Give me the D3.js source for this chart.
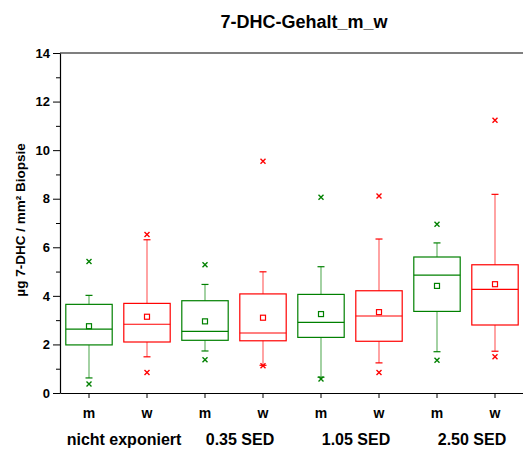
<!DOCTYPE html>
<html lang="en">
<head>
    <meta charset="UTF-8">
    <title>7-DHC-Gehalt_m_w</title>
    <script src="https://d3js.org/d3.v7.min.js"></script>
    <style>
        body { margin: 0; background: white; }
        text { font-family: Arial, "Liberation Sans", sans-serif; font-weight: bold; fill: black; }
        .axis path, .axis line { stroke: black; }
    </style>
</head>
<body>
<script>
    // Groups and sexes
    const groups = ["nicht exponiert", "0.35 SED", "1.05 SED", "2.50 SED"];
    const sexes = ["m", "w"];

    // Box statistics, order: 1m, 1w, 2m, 2w, 3m, 3w, 4m, 4w
    const whiskerLow  = [0.62, 1.49, 1.73, 1.14, 0.65, 1.24, 1.70, 1.72];
    const q1          = [1.98, 2.10, 2.17, 2.15, 2.29, 2.13, 3.36, 2.80];
    const median      = [2.63, 2.83, 2.54, 2.47, 2.91, 3.17, 4.85, 4.27];
    const q3          = [3.65, 3.69, 3.80, 4.08, 4.06, 4.21, 5.60, 5.28];
    const whiskerHigh = [4.02, 6.31, 4.47, 4.99, 5.20, 6.34, 6.18, 8.18];
    const mean        = [2.75, 3.14, 2.95, 3.10, 3.25, 3.33, 4.41, 4.48];
    const outlierLow  = [0.37, 0.84, 1.37, 1.12, 0.58, 0.84, 1.35, 1.49];
    const outlierHigh = [5.41, 6.53, 5.28, 9.54, 8.06, 8.11, 6.95, 11.23];

    const yTicks = [0, 2, 4, 6, 8, 10, 12, 14];

    const W = 523, H = 449;
    const margin = {top: 53, right: -1, bottom: 56, left: 60};
    const colors = {m: "#008000", w: "#ff0000"};

    const svg = d3.select("body").append("svg")
        .attr("width", W)
        .attr("height", H);

    // build rows
    const rows = [];
    groups.forEach((g, gi) => {
        sexes.forEach((s, si) => {
            const i = gi * 2 + si;
            rows.push({
                key: i, group: g, sex: s,
                lo: whiskerLow[i], q1: q1[i], med: median[i], q3: q3[i],
                hi: whiskerHigh[i], mean: mean[i],
                outliers: [outlierLow[i], outlierHigh[i]]
            });
        });
    });

    const x = d3.scaleBand()
        .domain(rows.map(d => d.key))
        .range([margin.left, W - margin.right])
        .padding(0);

    const y = d3.scaleLinear()
        .domain([0, 14])
        .range([H - margin.bottom, margin.top]);

    // top frame line
    svg.append("line")
        .attr("x1", margin.left).attr("x2", W)
        .attr("y1", y(14)).attr("y2", y(14))
        .attr("stroke", "black").attr("stroke-width", 1.2);

    // y axis with minor ticks
    const yAxis = svg.append("g")
        .attr("class", "axis")
        .attr("transform", `translate(${margin.left},0)`)
        .call(d3.axisLeft(y).tickValues(yTicks).tickSize(7).tickPadding(3).tickSizeOuter(0));
    yAxis.selectAll("text").style("font-size", "13px");
    yAxis.select(".domain").attr("stroke-width", 1.2);

    svg.append("g")
        .attr("class", "axis")
        .attr("transform", `translate(${margin.left},0)`)
        .call(d3.axisLeft(y).tickValues(d3.range(1, 14, 2)).tickSize(4).tickFormat(""))
        .select(".domain").remove();

    // x axis
    const xAxis = svg.append("g")
        .attr("class", "axis")
        .attr("transform", `translate(0,${y(0)})`)
        .call(d3.axisBottom(x).tickSize(5).tickSizeOuter(0).tickPadding(10)
            .tickFormat(k => rows[k].sex));
    xAxis.selectAll("text").style("font-size", "14px");
    xAxis.select(".domain").attr("stroke-width", 1.2);

    // group labels
    svg.selectAll(".glabel")
        .data(groups)
        .enter().append("text")
        .attr("class", "glabel")
        .attr("x", (g, gi) => (x(gi * 2) + x(gi * 2 + 1) + x.bandwidth()) / 2 + 6)
        .attr("y", 445)
        .attr("text-anchor", "middle")
        .style("font-size", "16px")
        .text(g => g);

    // title
    svg.append("text")
        .attr("x", 304).attr("y", 28)
        .attr("text-anchor", "middle")
        .style("font-size", "18px")
        .text("7-DHC-Gehalt_m_w");

    // y label
    svg.append("text")
        .attr("transform", `translate(25,${(y(0) + y(14)) / 2 - 3}) rotate(-90)`)
        .attr("text-anchor", "middle")
        .style("font-size", "13.5px")
        .text("µg 7-DHC / mm² Biopsie");

    const boxW = x.bandwidth() * 0.8;
    const capW = 7;

    const box = svg.selectAll(".box")
        .data(rows)
        .enter().append("g")
        .attr("class", "box")
        .attr("transform", d => `translate(${x(d.key) + x.bandwidth() / 2},0)`)
        .attr("stroke", d => colors[d.sex])
        .attr("fill", "none")
        .attr("stroke-width", 1.2);

    // whiskers
    box.append("line")
        .attr("x1", 0).attr("x2", 0)
        .attr("y1", d => y(d.q3)).attr("y2", d => y(d.hi))
        .attr("stroke-opacity", 0.6);
    box.append("line")
        .attr("x1", 0).attr("x2", 0)
        .attr("y1", d => y(d.q1)).attr("y2", d => y(d.lo))
        .attr("stroke-opacity", 0.6);
    box.append("line")
        .attr("x1", -capW / 2).attr("x2", capW / 2)
        .attr("y1", d => y(d.hi)).attr("y2", d => y(d.hi));
    box.append("line")
        .attr("x1", -capW / 2).attr("x2", capW / 2)
        .attr("y1", d => y(d.lo)).attr("y2", d => y(d.lo));

    // box
    box.append("rect")
        .attr("x", -boxW / 2)
        .attr("width", boxW)
        .attr("y", d => y(d.q3))
        .attr("height", d => y(d.q1) - y(d.q3));

    // median
    box.append("line")
        .attr("x1", -boxW / 2).attr("x2", boxW / 2)
        .attr("y1", d => y(d.med)).attr("y2", d => y(d.med));

    // mean square
    box.append("rect")
        .attr("x", -2.5).attr("width", 5)
        .attr("y", d => y(d.mean) - 2.5).attr("height", 5);

    // outliers as x marks
    box.selectAll(".out")
        .data(d => d.outliers)
        .enter().append("path")
        .attr("class", "out")
        .attr("d", v => `M-2.5,${y(v) - 2.5}L2.5,${y(v) + 2.5}M-2.5,${y(v) + 2.5}L2.5,${y(v) - 2.5}`)
        .attr("stroke-width", 1.4);
</script>
</body>
</html>
